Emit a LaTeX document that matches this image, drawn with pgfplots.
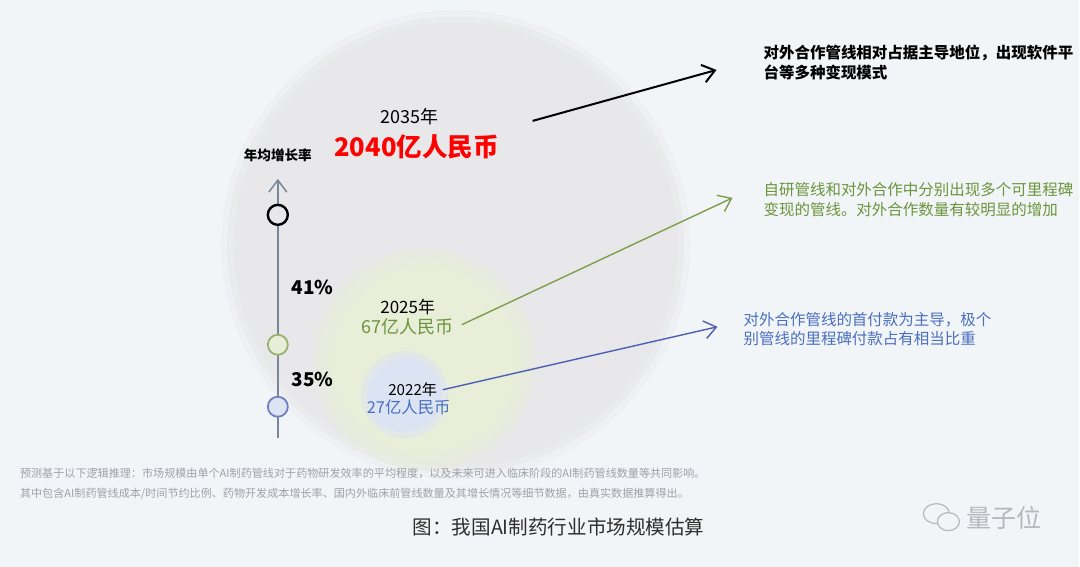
\documentclass[border=0pt]{standalone}
\usepackage{fontspec}
\setmainfont{Noto Sans CJK SC}
\usepackage{pgfplots}
\pgfplotsset{compat=1.18}
\usetikzlibrary{arrows.meta}

\definecolor{bg}{HTML}{F2F5F8}
\definecolor{bigc}{HTML}{E8E8EA}
\definecolor{greenc}{HTML}{E8EED8}
\definecolor{bluec}{HTML}{DCE4F4}
\definecolor{tline}{HTML}{7A879B}
\definecolor{gtext}{HTML}{6A953C}
\definecolor{btext}{HTML}{4A6FBF}
\definecolor{garrow}{HTML}{7F9D4C}
\definecolor{barrow}{HTML}{4C5FB5}
\definecolor{foot}{HTML}{9EA2A7}
\definecolor{wmark}{HTML}{B5B8BC}

\newcommand{\fs}[2]{\fontsize{#1pt}{#2pt}\selectfont}

\begin{document}
\begin{tikzpicture}
\begin{axis}[
    x=0.5pt, y=0.5pt,
    xmin=0, xmax=1080, ymin=0, ymax=567,
    y dir=reverse,
    hide axis, clip=false,
    set layers,
    bubble/.style={only marks, mark=*, on layer=axis grid, mark layer=axis grid,
      mark options={draw=#1, fill=#1, line width=0pt}},
  ]
  \begin{pgfonlayer}{axis background}
    \fill[bg] (axis cs:0,0) rectangle (axis cs:1080,567);
  \end{pgfonlayer}

  % bubbles (market size 2035 / 2025 / 2022)
  \addplot[bubble=bigc, mark size=117pt, opacity=0.35] coordinates {(456,245)};
  \addplot[bubble=bigc, mark size=114pt, opacity=0.6] coordinates {(456,245)};
  \addplot[bubble=bigc, mark size=111pt] coordinates {(456,245)};
  \addplot[bubble=greenc, mark size=55pt, opacity=0.4] coordinates {(425,360)};
  \addplot[bubble=greenc, mark size=51pt, opacity=0.6] coordinates {(425,360)};
  \addplot[bubble=greenc, mark size=46pt] coordinates {(425,360)};
  \addplot[bubble=bluec, mark size=21.5pt, opacity=0.5] coordinates {(405,395)};
  \addplot[bubble=bluec, mark size=18.5pt] coordinates {(405,395)};

  % timeline
  \addplot[tline, line width=0.75pt, -{Straight Barb[length=6pt,width=9pt]}] coordinates {(278,438) (278,179)};
  \addplot[only marks, mark=*, mark size=5pt, mark options={draw=black, fill=bigc, line width=1.2pt}] coordinates {(278,215)};
  \addplot[only marks, mark=*, mark size=5pt, mark options={draw=garrow!80, fill=greenc, line width=0.9pt}] coordinates {(278,345)};
  \addplot[only marks, mark=*, mark size=5pt, mark options={draw=barrow!80, fill=bluec, line width=0.9pt}] coordinates {(278,407)};

  % arrows
  \addplot[black, line width=1pt, -{Straight Barb[length=6pt,width=9pt]}] coordinates {(533,121) (717,70)};
  \addplot[garrow, line width=0.7pt, -{Straight Barb[length=6pt,width=9pt]}] coordinates {(462,325) (733,198)};
  \addplot[barrow, line width=0.7pt, -{Straight Barb[length=6pt,width=9pt]}] coordinates {(443,390) (718,327)};

  % labels
  \node[font=\fs{6.8}{8}\bfseries] at (axis cs:278,155) {年均增长率};
  \node[font=\fs{9.5}{11}\bfseries] at (axis cs:313,288) {41\%};
  \node[font=\fs{9.5}{11}\bfseries] at (axis cs:313,380) {35\%};

  \node[font=\fs{9}{10}] at (axis cs:410,117) {2035年};
  \node[font=\fs{12.8}{14}\bfseries, text=red] at (axis cs:417,147) {2040亿人民币};
  \node[font=\fs{8.5}{10}] at (axis cs:408,307) {2025年};
  \node[font=\fs{9}{10}, text=gtext] at (axis cs:408,327) {67亿人民币};
  \node[font=\fs{7.6}{9}] at (axis cs:413,390) {2022年};
  \node[font=\fs{8.2}{9}, text=btext] at (axis cs:409,408) {27亿人民币};

  \node[anchor=west, align=left, font=\fs{7.75}{10}\bfseries] at (axis cs:757,63)
    {对外合作管线相对占据主导地位，出现软件平\\台等多种变现模式};
  \node[anchor=west, align=left, font=\fs{7.75}{10}, text=gtext] at (axis cs:757,200)
    {自研管线和对外合作中分别出现多个可里程碑\\变现的管线。对外合作数量有较明显的增加};
  \node[anchor=west, align=left, font=\fs{7.75}{9.5}, text=btext] at (axis cs:737,329)
    {对外合作管线的首付款为主导，极个\\别管线的里程碑付款占有相当比重};

  % footnote and caption
  \node[anchor=west, align=left, font=\fs{5.55}{10}, text=foot] at (axis cs:13,484)
    {预测基于以下逻辑推理：市场规模由单个AI制药管线对于药物研发效率的平均程度，以及未来可进入临床阶段的AI制药管线数量等共同影响。\\其中包含AI制药管线成本/时间节约比例、药物开发成本增长率、国内外临床前管线数量及其增长情况等细节数据，由真实数据推算得出。};
  \node[font=\fs{9.8}{11}, text=black!82] at (axis cs:559,527) {图：我国AI制药行业市场规模估算};

  % watermark
  \draw[wmark, line width=0.6pt] (axis cs:937,514) ellipse (6.5pt and 5pt);
  \draw[wmark, line width=0.6pt, fill=bg] (axis cs:949,522) ellipse (5.5pt and 4.5pt);
  \node[font=\fs{12.5}{13}, text=wmark] at (axis cs:1005,518) {量子位};
\end{axis}
\end{tikzpicture}
\end{document}
